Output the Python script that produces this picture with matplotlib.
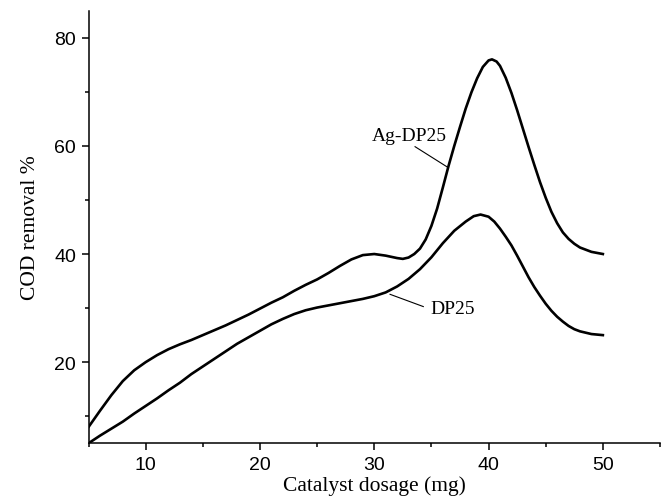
import matplotlib
matplotlib.use('Agg')
import matplotlib.pyplot as plt
from matplotlib.ticker import MultipleLocator

# catalyst dosage (mg) vs COD removal (%)
ag_dose = [5, 6, 7, 8, 9, 10, 11, 12, 13, 14, 15, 16, 17, 18, 19, 20, 21, 22, 23, 24,
           25, 26, 27, 28, 29, 30, 31, 32, 32.5, 33, 33.5, 34, 34.5, 35, 35.5, 36, 36.5,
           37, 37.5, 38, 38.5, 39, 39.5, 40, 40.3, 40.7, 41, 41.5, 42, 42.5, 43, 43.5,
           44, 44.5, 45, 45.5, 46, 46.5, 47, 47.5, 48, 49, 50]
ag_cod = [8.0, 11.0, 13.9, 16.5, 18.5, 20.0, 21.3, 22.4, 23.3, 24.1, 25.0, 25.9, 26.8,
          27.8, 28.8, 29.9, 31.0, 32.0, 33.2, 34.3, 35.3, 36.5, 37.8, 39.0, 39.8, 40.0,
          39.7, 39.25, 39.1, 39.35, 40.0, 41.0, 42.7, 45.2, 48.4, 52.3, 56.3, 60.0, 63.5,
          66.9, 69.9, 72.5, 74.6, 75.8, 76.0, 75.6, 74.8, 72.6, 69.8, 66.6, 63.2, 59.8,
          56.5, 53.3, 50.4, 47.8, 45.7, 44.0, 42.8, 41.9, 41.2, 40.4, 40.0]

dp_dose = [5, 6, 7, 8, 9, 10, 11, 12, 13, 14, 15, 16, 17, 18, 19, 20, 21, 22, 23, 24,
           25, 26, 27, 28, 29, 30, 31, 32, 33, 34, 35, 36, 37, 38, 38.7, 39.3, 40, 40.5,
           41, 41.5, 42, 42.5, 43, 43.5, 44, 44.5, 45, 45.5, 46, 46.5, 47, 47.5, 48, 49, 50]
dp_cod = [5.0, 6.4, 7.7, 9.0, 10.5, 11.9, 13.3, 14.8, 16.2, 17.8, 19.2, 20.6, 22.0, 23.4,
          24.6, 25.8, 27.0, 28.0, 28.9, 29.6, 30.1, 30.5, 30.9, 31.3, 31.7, 32.2, 32.9,
          34.0, 35.4, 37.2, 39.4, 42.0, 44.3, 46.0, 47.0, 47.3, 46.9, 46.0, 44.7, 43.2,
          41.6, 39.7, 37.7, 35.7, 33.9, 32.3, 30.8, 29.5, 28.4, 27.5, 26.7, 26.1, 25.7,
          25.2, 25.0]

labels = ['Ag-DP25', 'DP25']

plt.rcParams.update({
    'font.family': 'Liberation Sans',
    'font.size': 14,
})

fig = plt.figure(figsize=(6.62, 5.02), dpi=100)
ax = fig.add_axes([0.1337, 0.115, 0.8633, 0.8617])

ax.plot(ag_dose, ag_cod, color='black', lw=1.9)
ax.plot(dp_dose, dp_cod, color='black', lw=1.9)

# curve labels with short leader lines
ax.text(33.1, 61.9, labels[0], family='Liberation Serif', fontsize=14,
        ha='center', va='center')
ax.plot([33.57, 36.48], [59.85, 55.97], color='black', lw=0.8)
ax.text(36.85, 29.9, labels[1], family='Liberation Serif', fontsize=14,
        ha='center', va='center')
ax.plot([31.38, 34.29], [32.55, 30.28], color='black', lw=0.8)

ax.set_xlim(5, 55)
ax.set_ylim(5, 85)
ax.xaxis.set_major_locator(MultipleLocator(10))
ax.xaxis.set_minor_locator(MultipleLocator(5))
ax.yaxis.set_major_locator(MultipleLocator(20))
ax.yaxis.set_minor_locator(MultipleLocator(10))
ax.tick_params(which='major', direction='out', length=5, width=1.1, pad=4)
ax.tick_params(which='minor', direction='out', length=3, width=1.1)

for side in ['top', 'right']:
    ax.spines[side].set_visible(False)
for side in ['left', 'bottom']:
    ax.spines[side].set_linewidth(1.1)

ax.set_xlabel('Catalyst dosage (mg)', family='Liberation Serif', fontsize=15.5, labelpad=2)
ax.set_ylabel('COD removal %', family='Liberation Serif', fontsize=15.5, labelpad=10)

fig.savefig('out.png', dpi=100)
